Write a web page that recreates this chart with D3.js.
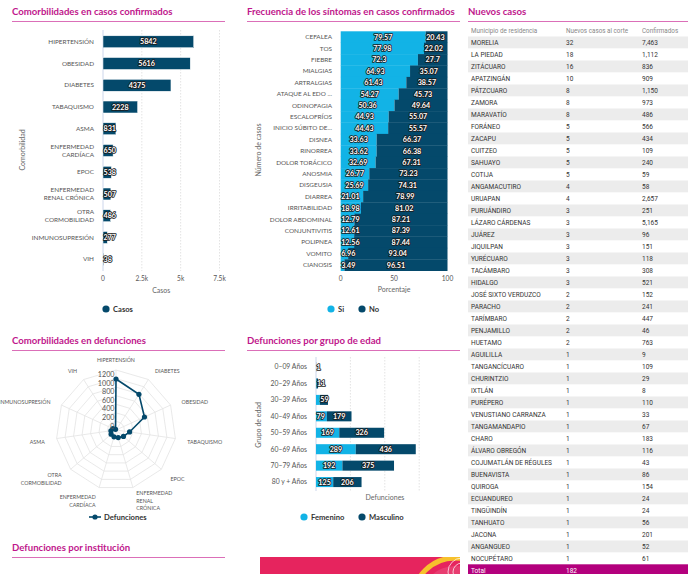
<!DOCTYPE html>
<html><head><meta charset="utf-8">
<script src="https://cdn.jsdelivr.net/npm/d3@7"></script>
<style>
body{margin:0;background:#fff;}
svg{display:block;font-family:Lato,"Open Sans",sans-serif;}
</style></head><body>
<svg id="c" width="688" height="574"></svg>
<script>
// ---------- DATA ----------
const comorbCats = ["HIPERTENSIÓN","OBESIDAD","DIABETES","TABAQUISMO","ASMA","ENFERMEDAD\nCARDÍACA","EPOC","ENFERMEDAD\nRENAL CRÓNICA","OTRA\nCORMOBILIDAD","INMUNOSUPRESIÓN","VIH"];
const comorbVals = [5842,5616,4375,2228,831,650,538,507,486,277,38];
const casosTicks = [0,2500,5000,7500];

const symptomCats = ["CEFALEA","TOS","FIEBRE","MIALGIAS","ARTRALGIAS","ATAQUE AL EDO ...","ODINOFAGIA","ESCALOFRÍOS","INICIO SÚBITO DE...","DISNEA","RINORREA","DOLOR TORÁCICO","ANOSMIA","DISGEUSIA","DIARREA","IRRITABILIDAD","DOLOR ABDOMINAL","CONJUNTIVITIS","POLIPNEA","VOMITO","CIANOSIS"];
const symptomSi = [79.57,77.98,72.3,64.93,61.43,54.27,50.36,44.93,44.43,33.63,33.62,32.69,26.77,25.69,21.01,18.98,12.79,12.61,12.56,6.96,3.49];
const symptomNo = [20.43,22.02,27.7,35.07,38.57,45.73,49.64,55.07,55.57,66.37,66.38,67.31,73.23,74.31,78.99,81.02,87.21,87.39,87.44,93.04,96.51];
const pctTicks = [0,50,100];

const muniNames = ["MORELIA","LA PIEDAD","ZITÁCUARO","APATZINGÁN","PÁTZCUARO","ZAMORA","MARAVATÍO","FORÁNEO","ZACAPU","CUITZEO","SAHUAYO","COTIJA","ANGAMACUTIRO","URUAPAN","PURUÁNDIRO","LÁZARO CÁRDENAS","JUÁREZ","JIQUILPAN","YURÉCUARO","TACÁMBARO","HIDALGO","JOSÉ SIXTO VERDUZCO","PARACHO","TARÍMBARO","PENJAMILLO","HUETAMO","AGUILILLA","TANGANCÍCUARO","CHURINTZIO","IXTLÁN","PURÉPERO","VENUSTIANO CARRANZA","TANGAMANDAPIO","CHARO","ÁLVARO OBREGÓN","COJUMATLÁN DE RÉGULES","BUENAVISTA","QUIROGA","ECUANDUREO","TINGÜINDÍN","TANHUATO","JACONA","ANGANGUEO","NOCUPÉTARO"];
const muniNew = [32,18,16,10,8,8,8,5,5,5,5,5,4,4,3,3,3,3,3,3,3,2,2,2,2,2,1,1,1,1,1,1,1,1,1,1,1,1,1,1,1,1,1,1];
const muniConf = ["7,463","1,112","836","909","1,150","973","486","566","434","109","240","59","58","2,657","251","5,165","96","151","118","308","521","152","241","447","46","763","9","109","29","8","110","33","67","183","116","43","86","154","24","24","56","201","52","61"];
const tableHeaders = ["Municipio de residencia","Nuevos casos al corte","Confirmados"];
const totalNew = 182;

const radarCats = ["HIPERTENSIÓN","DIABETES","OBESIDAD","TABAQUISMO","EPOC","ENFERMEDAD\nRENAL\nCRÓNICA","ENFERMEDAD\nCARDÍACA","OTRA\nCORMOBILIDAD","ASMA","INMUNOSUPRESIÓN","VIH"];
const radarVals = [1190,990,730,320,230,185,165,150,120,80,20];
const radarTicks = [0,200,400,600,800,1000,1200];

const ageCats = ["0–09 Años","20–29 Años","30–39 Años","40–49 Años","50–59 Años","60–69 Años","70–79 Años","80 y + Años"];
const ageFem = [0,4,28,79,169,289,192,125];
const ageMasc = [1,11,59,179,326,436,375,206];
const ageGrid = [0,250,500,750];

// ---------- COLORS ----------
const C = {title:"#c0178c", rule:"#db6fb8", dark:"#04496b", light:"#12b3e6", text:"#555", grid:"#e3e3e3", axis:"#ccd6eb", total:"#b3007d"};

const svg = d3.select("#c");

function title(x, y, x2, t){
  svg.append("text").attr("x",x).attr("y",y).attr("fill",C.title).attr("font-size",9.6).attr("font-weight",700).text(t);
  svg.append("line").attr("x1",x).attr("x2",x2).attr("y1",y+6.5).attr("y2",y+6.5).attr("stroke",C.rule).attr("stroke-width",1);
}
function dlabel(g, x, y, t, anchor){
  g.append("text").attr("x",x).attr("y",y).attr("dy","0.35em").attr("text-anchor",anchor)
   .attr("font-size",7.2).attr("font-weight",700).attr("fill","#fff")
   .attr("stroke","#1b1b1b").attr("stroke-width",1.7).attr("stroke-linejoin","round")
   .attr("paint-order","stroke").text(t);
}
function placeLabel(g, x0, x1, y, t){
  const w = String(t).length*4.3;
  if (x1 - x0 > w + 3) dlabel(g,(x0+x1)/2,y,t,"middle");
  else dlabel(g,x0+0.5,y,t,"start");
}
function multiLabel(g, x, y, t, anchor, size, lh, fill){
  const lines = t.split("\n");
  const tx = g.append("text").attr("text-anchor",anchor).attr("font-size",size).attr("fill",fill);
  lines.forEach((l,i)=>{
    tx.append("tspan").attr("x",x).attr("y", y - (lines.length-1)*lh/2 + i*lh).attr("dy","0.35em").text(l);
  });
}
function legendDot(x, y, color, t){
  svg.append("circle").attr("cx",x).attr("cy",y).attr("r",3.6).attr("fill",color);
  svg.append("text").attr("x",x+7).attr("y",y).attr("dy","0.35em").attr("font-size",7.6).attr("font-weight",700).attr("fill","#333").text(t);
}

// ---------- PANEL 1: comorbilidades en casos ----------
title(12,15,225,"Comorbilidades en casos confirmados");
{
  const g = svg.append("g");
  const x = d3.scaleLinear().domain([0,7500]).range([103,219.5]);
  const y = d3.scaleBand().domain(comorbCats).range([26,275]).paddingInner(0.45).paddingOuter(0.45);
  g.selectAll(".gl").data(casosTicks.slice(1)).join("line")
    .attr("x1",d=>x(d)).attr("x2",d=>x(d)).attr("y1",30).attr("y2",271)
    .attr("stroke",C.grid).attr("stroke-dasharray","1.5,1.5");
  g.append("line").attr("x1",x(0)).attr("x2",x(0)).attr("y1",30).attr("y2",271).attr("stroke",C.axis);
  g.selectAll(".b").data(comorbVals).join("rect")
    .attr("x",x(0)).attr("y",(d,i)=>y(comorbCats[i])).attr("width",d=>x(d)-x(0)).attr("height",y.bandwidth())
    .attr("fill",C.dark).attr("stroke","#fff").attr("stroke-width",0.5);
  comorbVals.forEach((v,i)=>placeLabel(g,x(0),x(v),y(comorbCats[i])+y.bandwidth()/2,v));
  comorbCats.forEach(c=>multiLabel(g,94,y(c)+y.bandwidth()/2,c,"end",6.4,8.2,C.text));
  casosTicks.forEach(t=>g.append("text").attr("x",x(t)).attr("y",281).attr("text-anchor","middle")
    .attr("font-size",6.6).attr("fill",C.text).text(t===0?"0":d3.format("~s")(t).replace("k","k")));
  g.append("text").attr("x",x(3750)).attr("y",293).attr("text-anchor","middle").attr("font-size",7).attr("fill","#666").text("Casos");
  g.append("text").attr("transform","translate(25,150) rotate(-90)").attr("text-anchor","middle").attr("font-size",7).attr("fill","#666").text("Comorbilidad");
  legendDot(106,309,C.dark,"Casos");
}

// ---------- PANEL 2: síntomas ----------
title(247,15,460,"Frecuencia de los síntomas en casos confirmados");
{
  const g = svg.append("g");
  const x = d3.scaleLinear().domain([0,100]).range([340.7,447.5]);
  const y = d3.scaleBand().domain(symptomCats).range([31.3,270.7]).padding(0);
  g.selectAll(".si").data(symptomSi).join("rect")
    .attr("x",x(0)).attr("y",(d,i)=>y(symptomCats[i])).attr("width",d=>x(d)-x(0)).attr("height",y.bandwidth()+0.3)
    .attr("fill",C.light);
  g.selectAll(".no").data(symptomNo).join("rect")
    .attr("x",(d,i)=>x(symptomSi[i])).attr("y",(d,i)=>y(symptomCats[i])).attr("width",d=>x(100)-x(100-d)).attr("height",y.bandwidth()+0.3)
    .attr("fill",C.dark);
  symptomCats.forEach((c,i)=>{
    const cy = y(c)+y.bandwidth()/2;
    placeLabel(g,x(0),x(symptomSi[i]),cy,symptomSi[i]);
    placeLabel(g,x(symptomSi[i]),x(100),cy,symptomNo[i]);
    g.append("text").attr("x",332).attr("y",cy).attr("dy","0.35em").attr("text-anchor","end").attr("font-size",6.4).attr("fill",C.text).text(c);
  });
  pctTicks.forEach(t=>g.append("text").attr("x",x(t)).attr("y",281).attr("text-anchor","middle").attr("font-size",6.6).attr("fill",C.text).text(t));
  g.append("text").attr("x",x(50)).attr("y",292).attr("text-anchor","middle").attr("font-size",7).attr("fill","#666").text("Porcentaje");
  g.append("text").attr("transform","translate(261,150) rotate(-90)").attr("text-anchor","middle").attr("font-size",7).attr("fill","#666").text("Número de casos");
  legendDot(331,309,C.light,"Si");
  legendDot(362,309,C.dark,"No");
}

// ---------- PANEL 3: tabla ----------
title(468,15,688,"Nuevos casos");
{
  const g = svg.append("g").attr("font-family","Roboto, sans-serif");
  const colX = [471,566,642];
  const rowY = d3.scaleLinear().domain([0,1]).range([42.3,54.3]);
  tableHeaders.forEach((h,i)=>g.append("text").attr("x",colX[i]).attr("y",31).attr("dy","0.35em").attr("font-size",6.3).attr("fill","#888").text(h));
  muniNames.forEach((m,i)=>{
    const cy = rowY(i);
    if (i%2===0) g.append("rect").attr("x",468).attr("y",cy-5.8).attr("width",220).attr("height",11.8).attr("fill","#ececec");
    g.append("text").attr("x",colX[0]).attr("y",cy).attr("dy","0.35em").attr("font-size",6.5).attr("fill","#333").text(m);
    g.append("text").attr("x",colX[1]).attr("y",cy).attr("dy","0.35em").attr("font-size",6.5).attr("fill","#333").text(muniNew[i]);
    g.append("text").attr("x",colX[2]).attr("y",cy).attr("dy","0.35em").attr("font-size",6.5).attr("fill","#333").text(muniConf[i]);
  });
  const ty = rowY(muniNames.length);
  g.append("rect").attr("x",468).attr("y",ty-6).attr("width",220).attr("height",12).attr("fill",C.total);
  g.append("text").attr("x",colX[0]).attr("y",ty).attr("dy","0.35em").attr("font-size",6.5).attr("fill","#fff").text("Total");
  g.append("text").attr("x",colX[1]).attr("y",ty).attr("dy","0.35em").attr("font-size",6.5).attr("fill","#fff").text(totalNew);
}

// ---------- PANEL 4: radar ----------
title(12,344,225,"Comorbilidades en defunciones");
{
  const g = svg.append("g");
  const cx = 116, cy = 430, R = 60;
  const r = d3.scaleLinear().domain([0,1400]).range([0,R]);
  const n = radarCats.length;
  const ang = i => i*2*Math.PI/n;
  const pt = (i,v) => [cx + Math.sin(ang(i))*r(v), cy - Math.cos(ang(i))*r(v)];
  [200,400,600,800,1000,1200,1400].forEach(v=>{
    g.append("polygon").attr("points",d3.range(n).map(i=>pt(i,v).join(",")).join(" "))
      .attr("fill","none").attr("stroke",C.grid).attr("stroke-width",0.8);
  });
  d3.range(n).forEach(i=>{
    const p = pt(i,1400);
    g.append("line").attr("x1",cx).attr("y1",cy).attr("x2",p[0]).attr("y2",p[1]).attr("stroke",C.grid).attr("stroke-width",0.8);
    const lr = 72, lx = cx + Math.sin(ang(i))*lr, ly = cy - Math.cos(ang(i))*lr;
    const s = Math.sin(ang(i));
    const anchor = s>0.15?"start":(s<-0.15?"end":"middle");
    multiLabel(g,lx,ly+2,radarCats[i],anchor,5.3,7.5,"#555");
  });
  const line = d3.line().curve(d3.curveLinearClosed);
  g.append("path").attr("d",line(radarVals.map((v,i)=>pt(i,v)))).attr("fill","none").attr("stroke",C.dark).attr("stroke-width",1.6);
  radarVals.forEach((v,i)=>{const p=pt(i,v); g.append("circle").attr("cx",p[0]).attr("cy",p[1]).attr("r",2.6).attr("fill",C.dark);});
  radarTicks.forEach(t=>g.append("text").attr("x",cx-1.5).attr("y",cy - r(t) - 1.5).attr("text-anchor","end").attr("font-size",7.2).attr("fill","#555").text(t));
  g.append("line").attr("x1",89).attr("x2",101).attr("y1",517).attr("y2",517).attr("stroke",C.dark).attr("stroke-width",1.6);
  g.append("circle").attr("cx",95).attr("cy",517).attr("r",2.6).attr("fill",C.dark);
  g.append("text").attr("x",104).attr("y",517).attr("dy","0.35em").attr("font-size",7.6).attr("font-weight",700).attr("fill","#333").text("Defunciones");
}

// ---------- PANEL 5: edad ----------
title(247,344,460,"Defunciones por grupo de edad");
{
  const g = svg.append("g");
  const x = d3.scaleLinear().domain([0,750]).range([316,419.2]);
  const y = d3.scaleBand().domain(ageCats).range([355.6,493.5]).paddingInner(0.39).paddingOuter(0.39);
  ageGrid.forEach(t=>g.append("line").attr("x1",x(t)).attr("x2",x(t)).attr("y1",357).attr("y2",491)
    .attr("stroke",t===0?C.axis:C.grid).attr("stroke-dasharray",t===0?null:"1.5,1.5"));
  ageCats.forEach((c,i)=>{
    const y0 = y(c), cyy = y0 + y.bandwidth()/2;
    g.append("rect").attr("x",x(0)).attr("y",y0).attr("width",x(ageFem[i])-x(0)).attr("height",y.bandwidth()).attr("fill",C.light);
    g.append("rect").attr("x",x(ageFem[i])).attr("y",y0).attr("width",x(ageFem[i]+ageMasc[i])-x(ageFem[i])).attr("height",y.bandwidth()).attr("fill",C.dark);
    if (x(ageFem[i])-x(0) > 8) placeLabel(g,x(0),x(ageFem[i]),cyy,ageFem[i]);
    placeLabel(g,x(ageFem[i]),x(ageFem[i]+ageMasc[i]),cyy,ageMasc[i]);
    g.append("text").attr("x",307).attr("y",cyy).attr("dy","0.35em").attr("text-anchor","end").attr("font-size",6.8).attr("fill",C.text).text(c);
  });
  g.append("text").attr("x",385).attr("y",500).attr("text-anchor","middle").attr("font-size",7).attr("fill","#666").text("Defunciones");
  g.append("text").attr("transform","translate(261,425) rotate(-90)").attr("text-anchor","middle").attr("font-size",7).attr("fill","#666").text("Grupo de edad");
  legendDot(304,517,C.light,"Femenino");
  legendDot(362,517,C.dark,"Masculino");
}

// ---------- PANEL 6: bottom ----------
title(12,551,225,"Defunciones por institución");
{
  const g = svg.append("g");
  g.append("clipPath").attr("id","bn").append("rect").attr("x",260).attr("y",557).attr("width",200).attr("height",17);
  g.append("rect").attr("x",260).attr("y",557).attr("width",200).attr("height",17).attr("fill","#e6245e");
  const bg = g.append("g").attr("clip-path","url(#bn)");
  bg.append("circle").attr("cx",455).attr("cy",600).attr("r",42).attr("fill","none").attr("stroke","#f7c12c").attr("stroke-width",5);
  bg.append("circle").attr("cx",455).attr("cy",600).attr("r",34).attr("fill","#ea4f7d").attr("opacity",0.6);
  bg.append("circle").attr("cx",462).attr("cy",572).attr("r",14).attr("fill","none").attr("stroke","#fff").attr("stroke-width",0.7);
  bg.append("circle").attr("cx",462).attr("cy",572).attr("r",9).attr("fill","none").attr("stroke","#fff").attr("stroke-width",0.7);
}
</script>
</body></html>
